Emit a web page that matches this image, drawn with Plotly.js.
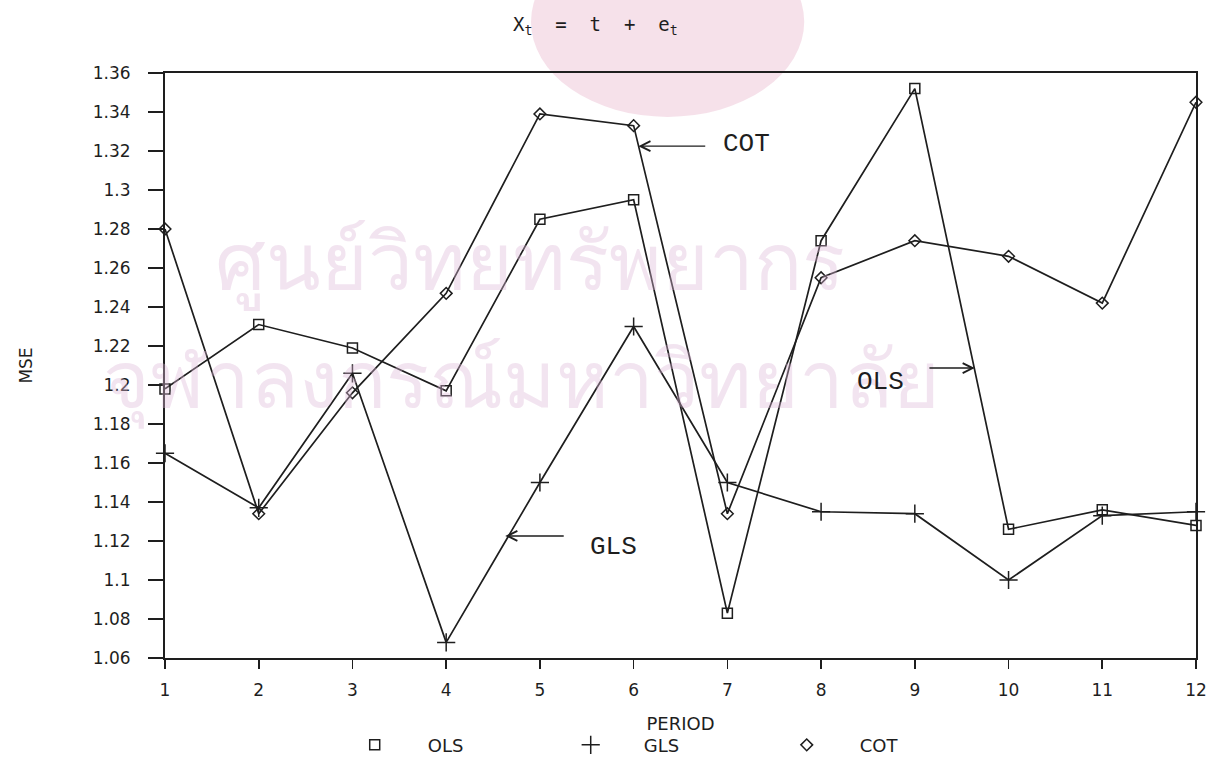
<!DOCTYPE html>
<html><head><meta charset="utf-8">
<script src="https://cdn.plot.ly/plotly-3.0.1.min.js"></script>
<style>html,body{margin:0;padding:0;background:#fff}</style>
</head><body>
<div id="chart" style="width:1225px;height:759px"></div>
<script>
const periods = [1,2,3,4,5,6,7,8,9,10,11,12];
const olsMSE = [1.198,1.231,1.219,1.197,1.285,1.295,1.083,1.274,1.352,1.126,1.136,1.128];
const glsMSE = [1.165,1.137,1.206,1.068,1.150,1.230,1.150,1.135,1.134,1.100,1.133,1.135];
const cotMSE = [1.280,1.134,1.196,1.247,1.339,1.333,1.134,1.255,1.274,1.266,1.242,1.345];
const seriesNames = ['OLS','GLS','COT'];
const yTickVals = [1.06,1.08,1.10,1.12,1.14,1.16,1.18,1.20,1.22,1.24,1.26,1.28,1.30,1.32,1.34,1.36];
const yTickText = ['1.06','1.08','1.1','1.12','1.14','1.16','1.18','1.2','1.22','1.24','1.26','1.28','1.3','1.32','1.34','1.36'];
const xTickVals = periods;

const ink = '#1e1e1e';
const symbols = ['square-open','cross-thin-open','diamond-open'];
const sizes = [10,13,9];
const allY = [olsMSE, glsMSE, cotMSE];

const traces = [];
allY.forEach((ys,i)=>{
  traces.push({x:periods,y:ys,type:'scatter',mode:'lines+markers',name:seriesNames[i],showlegend:false,
    cliponaxis:false,
    line:{color:ink,width:1.7},
    marker:{symbol:symbols[i],size:sizes[i],color:ink,line:{color:ink,width:1.5}}});
});
seriesNames.forEach((n,i)=>{
  traces.push({x:[null],y:[null],type:'scatter',mode:'markers',name:n,showlegend:true,
    marker:{symbol:symbols[i],size:sizes[i],color:ink,line:{color:ink,width:1.5}}});
});

const mono = 'Liberation Mono, DejaVu Sans Mono, monospace';
const arrow = (x,y,ax,ay)=>({x:x,y:y,ax:ax,ay:ay,xref:'x',yref:'y',axref:'x',ayref:'y',text:'',
  showarrow:true,arrowhead:5,arrowsize:1.4,arrowwidth:1.4,arrowcolor:ink});
const label = (x,y,t)=>({x:x,y:y,xref:'x',yref:'y',text:t,showarrow:false,
  font:{family:mono,size:26,color:ink}});
const wm = 'rgba(222,185,215,0.38)';

const layout = {
  width:1225,height:759,
  paper_bgcolor:'#ffffff',plot_bgcolor:'rgba(0,0,0,0)',
  margin:{l:165,r:29,t:73,b:101,autoexpand:false},
  font:{family:'DejaVu Sans, sans-serif',color:ink,size:17},
  title:{text:'X<sub>t</sub>&nbsp;&nbsp;=&nbsp;&nbsp;t&nbsp;&nbsp;+&nbsp;&nbsp;e<sub>t</sub>',
    x:0.486,xref:'container',xanchor:'center',y:0.968,yref:'container',yanchor:'middle',
    font:{family:'DejaVu Sans Mono, monospace',size:19,color:ink}},
  xaxis:{range:[1,12],tickmode:'array',tickvals:xTickVals,ticks:'outside',ticklen:9,tickwidth:1.6,tickcolor:ink,
    showline:true,linecolor:ink,linewidth:2,mirror:true,showgrid:false,zeroline:false,
    ticklabelstandoff:7,tickfont:{size:17},
    title:{text:'PERIOD',standoff:18,font:{size:18}}},
  yaxis:{range:[1.06,1.36],tickmode:'array',tickvals:yTickVals,ticktext:yTickText,ticks:'outside',ticklen:15,tickwidth:1.6,tickcolor:ink,
    showline:true,linecolor:ink,linewidth:2,mirror:true,showgrid:false,zeroline:false,
    ticklabelstandoff:14,tickfont:{size:17},
    title:{text:'MSE',standoff:56,font:{size:17}}},
  showlegend:true,
  legend:{orientation:'h',x:0.152,xanchor:'left',y:-0.149,yanchor:'middle',
    itemwidth:96,entrywidth:105,entrywidthmode:'pixels',bgcolor:'rgba(0,0,0,0)',font:{size:18}},
  shapes:[
    {type:'circle',xref:'paper',yref:'paper',x0:0.355,x1:0.62,y0:0.925,y1:1.25,layer:'below',
     fillcolor:'rgba(238,196,214,0.5)',line:{width:0}}
  ],
  annotations:[
    {xref:'paper',yref:'paper',x:0.354,y:0.78,text:'ศูนย์วิทยทรัพยากร',showarrow:false,
     font:{family:'Noto Sans, sans-serif',size:80,color:wm}},
    {xref:'paper',yref:'paper',x:0.346,y:0.482,text:'จุฬาลงกรณ์มหาวิทยาลัย',showarrow:false,
     font:{family:'Noto Sans, sans-serif',size:80,color:wm}},
    arrow(6.05,1.3225,6.78,1.3225), label(7.2,1.3235,'COT'),
    arrow(4.63,1.1226,5.27,1.1226), label(5.78,1.117,'GLS'),
    arrow(9.64,1.2087,9.14,1.2087), label(8.63,1.2017,'OLS')
  ]
};
Plotly.newPlot('chart',traces,layout,{displayModeBar:false,staticPlot:true});
</script>
</body></html>
